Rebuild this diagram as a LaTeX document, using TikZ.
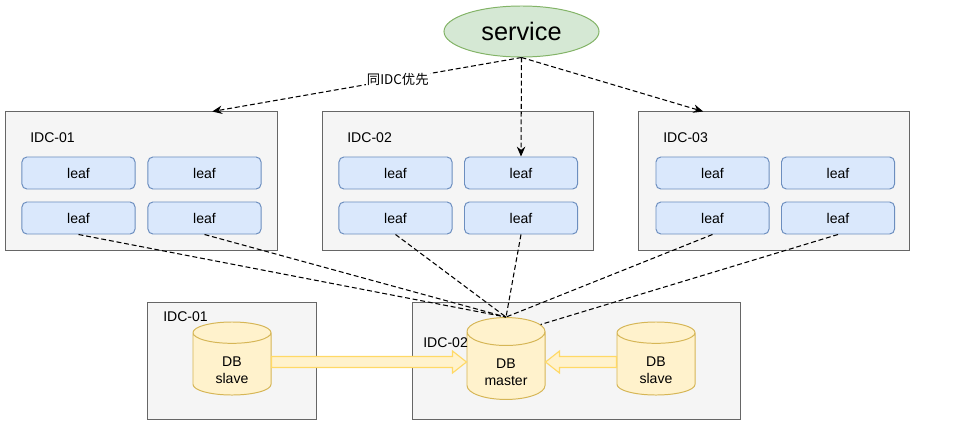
\documentclass[tikz,border=0pt]{standalone}
\usepackage{fontspec}
\setmainfont{Liberation Sans}
\newfontfamily\cjk{Noto Sans CJK SC}
\usepackage{xcolor}
\usetikzlibrary{shapes.geometric, arrows.meta, positioning}
\usetikzlibrary{calc}

\definecolor{idcfill}{HTML}{F5F5F5}
\definecolor{idcline}{HTML}{666666}
\definecolor{leaffill}{HTML}{DAE8FC}
\definecolor{leafline}{HTML}{6C8EBF}
\definecolor{srvfill}{HTML}{D5E8D4}
\definecolor{srvline}{HTML}{82B366}
\definecolor{dbfill}{HTML}{FFF2CC}
\definecolor{dbline}{HTML}{D6B656}
\definecolor{syncline}{HTML}{FFD966}

\tikzset{
	idcbox/.style={draw=idcline, fill=idcfill, line width=0.7pt, minimum width=6.78cm, minimum height=3.45cm},
	leafbox/.style={draw=leafline, fill=leaffill, line width=0.7pt, rounded corners=3.5pt, minimum width=2.825cm, minimum height=0.8cm, font=\fontsize{10}{12}\selectfont},
	dbnode/.style={cylinder, shape border rotate=90, aspect=0.65, anchor=shape center, draw=dbline, fill=dbfill, line width=0.7pt, minimum width=1.95cm, minimum height=1.825cm, align=center, inner sep=0pt, font=\fontsize{10}{12}\selectfont},
	idclabel/.style={anchor=west, inner sep=0pt, font=\fontsize{10}{12}\selectfont},
	link/.style={dash pattern=on 3.5pt off 2pt, line width=0.75pt},
	linkarrow/.style={link, -{Stealth[length=7pt, width=6pt]}},
	syncarrow/.style={draw=syncline, fill=dbfill, line width=0.8pt}
}

\begin{document}
\begin{tikzpicture}[x=0.025cm, y=-0.025cm]
		\useasboundingbox (0,0) rectangle (972,434);

		\draw (141.5,181) node[idcbox] (idcA) {}
		(458,181) node[idcbox] (idcB) {}
		(774,181) node[idcbox] (idcC) {}
		(232,361) node[idcbox, minimum width=4.2cm, minimum height=2.9cm] (dbA) {}
		(576.5,361) node[idcbox, minimum width=8.175cm, minimum height=2.9cm] (dbB) {};

		\draw (78.5,173) node[leafbox] (leafAa) {leaf}
		(204.5,173) node[leafbox] (leafAb) {leaf}
		(78.5,218) node[leafbox] (leafAc) {leaf}
		(204.5,218) node[leafbox] (leafAd) {leaf}
		(395.5,173) node[leafbox] (leafBa) {leaf}
		(521,173) node[leafbox] (leafBb) {leaf}
		(395.5,218) node[leafbox] (leafBc) {leaf}
		(521,218) node[leafbox] (leafBd) {leaf}
		(712.5,173) node[leafbox] (leafCa) {leaf}
		(838,173) node[leafbox] (leafCb) {leaf}
		(712.5,218) node[leafbox] (leafCc) {leaf}
		(838,218) node[leafbox] (leafCd) {leaf};

		\draw (30,138) node[idclabel] (labA) {IDC-01}
		(347,138) node[idclabel] (labB) {IDC-02}
		(663,138) node[idclabel] (labC) {IDC-03};

		\draw (521.5,31.5) node[ellipse, draw=srvline, fill=srvfill, line width=0.7pt, minimum width=3.875cm, minimum height=1.275cm, inner sep=0pt, font=\fontsize{18}{22}\selectfont] (service) {service};

		\draw (232,358.5) node[dbnode] (slaveA) {\rule{0pt}{16pt}DB\\slave}
		(506,358.5) node[dbnode] (master) {\rule{0pt}{16pt}DB\\master}
		(656,358.5) node[dbnode] (slaveB) {\rule{0pt}{16pt}DB\\slave};

		\draw (163,317) node[idclabel] (labDA) {IDC-01}
		(423,343) node[idclabel] (labDB) {IDC-02};

		\draw[linkarrow] (service.south) -- ($(idcA.north west)!0.76!(idcA.north east)$)
			node[pos=0.4, fill=white, inner sep=1pt, font=\cjk\fontsize{9.5}{11}\selectfont] (prefer) {同IDC优先};
		\draw[linkarrow] (service.south) -- (leafBb.north);
		\draw[linkarrow] (service.south) -- ($(idcC.north west)!0.24!(idcC.north east)$);

		\draw[link] (leafAc.south) -- (master.north);
		\draw[link] (leafAd.south) -- (master.north);
		\draw[link] (leafBc.south) -- (master.north);
		\draw[link] (leafBd.south) -- (master.north);
		\draw[link] (leafCc.south) -- (master.north);
		\draw[link] (leafCd.south) -- (master.50);

		\coordinate (fromA) at ($(slaveA.shape center -| slaveA.east)+(0,3.5)$);
		\coordinate (toA) at ($(master.shape center -| master.west)+(0,3.5)$);
		\coordinate (fromB) at ($(slaveB.shape center -| slaveB.west)+(0,3.5)$);
		\coordinate (toB) at ($(master.shape center -| master.east)+(0,3.5)$);

		\draw[syncarrow] ($(fromA)+(0,-5.5)$) -- ($(toA)+(-14,-5.5)$) -- ($(toA)+(-14,-11)$) -- (toA)
			-- ($(toA)+(-14,11)$) -- ($(toA)+(-14,5.5)$) -- ($(fromA)+(0,5.5)$) -- cycle;
		\draw[syncarrow] ($(fromB)+(0,-5.5)$) -- ($(toB)+(14,-5.5)$) -- ($(toB)+(14,-11)$) -- (toB)
			-- ($(toB)+(14,11)$) -- ($(toB)+(14,5.5)$) -- ($(fromB)+(0,5.5)$) -- cycle;
	\end{tikzpicture}
\end{document}
